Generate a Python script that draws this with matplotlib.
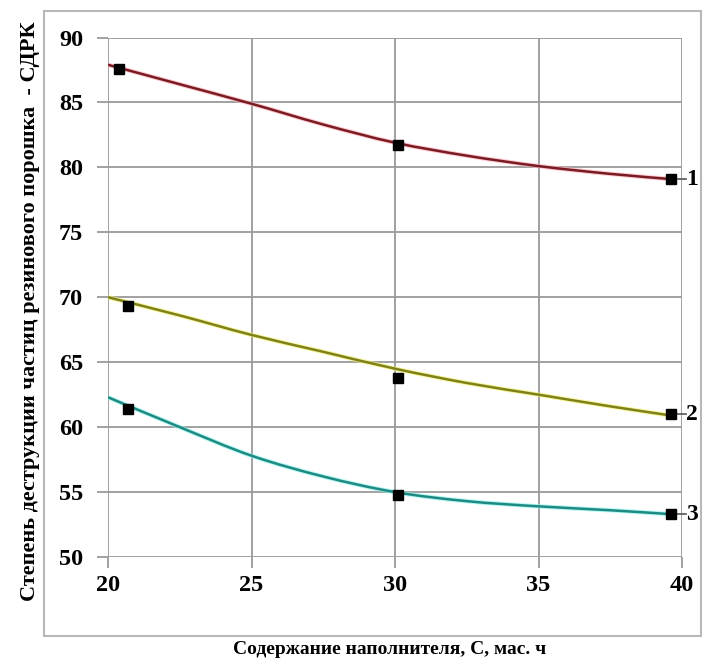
import matplotlib
matplotlib.use("Agg")
import matplotlib.pyplot as plt
from matplotlib.patches import Rectangle, PathPatch
from matplotlib.path import Path

plt.rcParams['font.family'] = ['Liberation Serif', 'DejaVu Serif']

# Measured points (markers)
x_pts = [[20.4, 30.1, 39.6], [20.7, 30.1, 39.6], [20.7, 30.1, 39.6]]
y_pts = [[87.6, 81.7, 79.1], [69.3, 63.8, 61.0], [61.4, 54.8, 53.3]]

# Trend curves
curve_x = [20, 22.5, 25, 27.5, 30, 32.5, 35, 37.5, 39.6]
curve1 = [87.9, 86.4, 84.9, 83.3, 81.9, 80.9, 80.1, 79.5, 79.1]
curve2 = [70.0, 68.6, 67.1, 65.8, 64.5, 63.4, 62.5, 61.6, 60.9]
curve3 = [62.3, 60.0, 57.8, 56.2, 55.0, 54.3, 53.9, 53.6, 53.3]
curves = [curve1, curve2, curve3]
labels = ["1", "2", "3"]
colors = ["#7a1c24", "#80801c", "#1f8a82"]
glows = ["#ffb0bb", "#f4f470", "#8ff5f0"]

x_ticks = [20, 25, 30, 35, 40]
y_ticks = [50, 55, 60, 65, 70, 75, 80, 85, 90]

fig = plt.figure(figsize=(7.03, 6.61), dpi=100)
ax = fig.add_axes([108/703, 1-557/661, (682-108)/703, (557-37.5)/661])

fig.patches.append(Rectangle((44/703, 1-636/661), (701-44)/703, (636-11)/661,
                             transform=fig.transFigure, fill=False,
                             edgecolor="#b8b8b8", linewidth=1.5))


def smooth_path(xs, ys):
    # Catmull-Rom through the read points, expressed as cubic Bezier segments
    verts = [(xs[0], ys[0])]
    codes = [Path.MOVETO]
    n = len(xs)
    for i in range(n - 1):
        x0, y0 = (xs[i-1], ys[i-1]) if i > 0 else (xs[i], ys[i])
        x1, y1 = xs[i], ys[i]
        x2, y2 = xs[i+1], ys[i+1]
        x3, y3 = (xs[i+2], ys[i+2]) if i + 2 < n else (xs[i+1], ys[i+1])
        c1 = (x1 + (x2 - x0) / 6, y1 + (y2 - y0) / 6)
        c2 = (x2 - (x3 - x1) / 6, y2 - (y3 - y1) / 6)
        verts += [c1, c2, (x2, y2)]
        codes += [Path.CURVE4] * 3
    return Path(verts, codes)


for cy, xp, yp, col, glow, lab in zip(curves, x_pts, y_pts, colors, glows, labels):
    p = smooth_path(curve_x, cy)
    ax.add_patch(PathPatch(p, fill=False, edgecolor=glow, linewidth=3.2,
                           alpha=0.7, zorder=3, capstyle='butt'))
    ax.add_patch(PathPatch(p, fill=False, edgecolor=col, linewidth=1.8,
                           zorder=4, capstyle='butt'))
    ax.plot(xp, yp, linestyle='none', marker='s', markersize=6.5,
            color='black', zorder=5)
    ax.plot([xp[-1], 40.15], [yp[-1], yp[-1]], color='#555555', lw=1.2,
            clip_on=False, zorder=4)
    ax.text(40.15, yp[-1], lab, va='center', ha='left',
            fontsize=17, fontweight='bold', color='black', clip_on=False,
            zorder=6)

ax.set_xlim(20, 40)
ax.set_ylim(50, 90)
ax.set_xticks(x_ticks)
ax.set_yticks(y_ticks)
ax.grid(True, color="#9a9a9a", linewidth=1.3)
ax.set_axisbelow(True)
for s in ax.spines.values():
    s.set_visible(False)
ax.tick_params(axis='both', length=8, width=1.3, color="#9a9a9a",
               labelsize=17.5)
ax.tick_params(axis='y', pad=10)
ax.tick_params(axis='x', pad=5)
for t in ax.get_xticklabels() + ax.get_yticklabels():
    t.set_fontweight('bold')

fig.text(30/703, 1-311/661,
         "Степень деструкции частиц резинового порошка  - СДРК",
         rotation=90, ha='center', va='center', fontsize=16,
         fontweight='bold')
fig.text(390/703, 1-650/661, "Содержание наполнителя, С, мас. ч",
         ha='center', va='center', fontsize=14, fontweight='bold')

fig.savefig("out.png", dpi=100)
